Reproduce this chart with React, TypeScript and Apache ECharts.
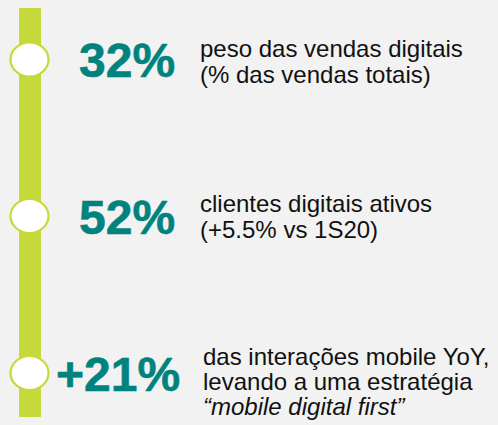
import React, { useEffect, useRef } from "react";
import * as echarts from "echarts";

const highlights = ["32%", "52%", "+21%"];
const descriptions: string[][] = [
  ["peso das vendas digitais", "(% das vendas totais)"],
  ["clientes digitais ativos", "(+5.5% vs 1S20)"],
  ["das interações mobile YoY,", "levando a uma estratégia", "“mobile digital first”"],
];
const italicLines: boolean[][] = [
  [false, false],
  [false, false],
  [false, false, true],
];

const W = 498;
const H = 425;
const LIME = "#c5d93a";
const TEAL = "#00827f";
const BG = "#f2f2f2";
const FONT = "Liberation Sans";

export default function App() {
  const ref = useRef<HTMLDivElement>(null);
  useEffect(() => {
    document.body.style.margin = "0";
    document.body.style.background = BG;
    if (!ref.current) return;
    const chart = echarts.init(ref.current, undefined, { renderer: "svg" });

    const centers = [59.5, 216, 373];
    const numX = [79, 79, 56];
    const descX = [200, 200, 203];
    const firstLine = [48.5, 203.5, 356.5];
    const lineGap = [26, 26, 25];

    const elements: any[] = [
      { type: "rect", shape: { x: 0, y: 0, width: W, height: H }, style: { fill: BG }, silent: true },
      { type: "rect", shape: { x: 19, y: 8, width: 22, height: 409 }, style: { fill: LIME } },
    ];
    highlights.forEach((h, i) => {
      elements.push({
        type: "ellipse",
        shape: { cx: 29.5, cy: centers[i], rx: 19, ry: 17 },
        style: { fill: "#ffffff", stroke: LIME, lineWidth: 2.2 },
      });
      elements.push({
        type: "text",
        x: numX[i],
        y: centers[i] + 1,
        style: {
          text: h,
          fill: TEAL,
          stroke: TEAL,
          lineWidth: 0.6,
          fontFamily: FONT,
          fontSize: 48,
          fontWeight: "bold",
          verticalAlign: "middle",
          align: "left",
        },
      });
      descriptions[i].forEach((line, j) => {
        elements.push({
          type: "text",
          x: descX[i],
          y: firstLine[i] + j * lineGap[i],
          style: {
            text: line,
            fill: "#111111",
            fontFamily: FONT,
            fontSize: 24,
            fontStyle: italicLines[i][j] ? "italic" : "normal",
            verticalAlign: "middle",
            align: "left",
          },
        });
      });
    });

    chart.setOption({
      animation: false,
      backgroundColor: BG,
      graphic: { elements },
    });
    return () => chart.dispose();
  }, []);
  return <div ref={ref} style={{ position: "fixed", left: 0, top: 0, width: W, height: H }} />;
}
